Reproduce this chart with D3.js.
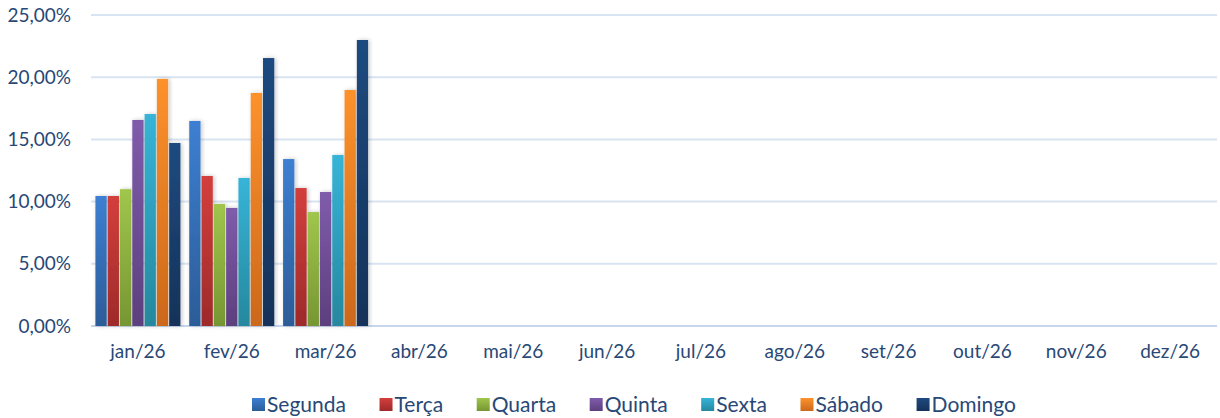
<!DOCTYPE html>
<html>
<head>
<meta charset="utf-8">
<script src="https://cdn.jsdelivr.net/npm/d3@7"></script>
<style>
  body { margin: 0; background: #fff; }
  svg { display: block; font-family: Lato, 'Open Sans', sans-serif; }
</style>
</head>
<body>
<div id="chart"></div>
<script>
// month categories (only first three have data)
const months = ["jan/26", "fev/26", "mar/26", "abr/26", "mai/26", "jun/26",
                "jul/26", "ago/26", "set/26", "out/26", "nov/26", "dez/26"];
const days = ["Segunda", "Terça", "Quarta", "Quinta", "Sexta", "Sábado", "Domingo"];

// share per weekday, jan..mar
const segunda = [0.1045, 0.1648, 0.1342];
const terca   = [0.1045, 0.1206, 0.1109];
const quarta  = [0.1100, 0.0981, 0.0916];
const quinta  = [0.1656, 0.0949, 0.1077];
const sexta   = [0.1704, 0.1190, 0.1375];
const sabado  = [0.1986, 0.1873, 0.1897];
const domingo = [0.1471, 0.2154, 0.2299];
const yTicks = [0, 0.05, 0.10, 0.15, 0.20, 0.25];

const series = [segunda, terca, quarta, quinta, sexta, sabado, domingo];

const colors = [
  ["#3d7fd2", "#2c5c98"],
  ["#d33f3c", "#9e2a2a"],
  ["#a0c64c", "#769632"],
  ["#7f5cab", "#5d3f7e"],
  ["#37b4d8", "#25889e"],
  ["#fd922c", "#cc681b"],
  ["#1f4a7f", "#143259"]
];
const textColor = "#284876";

const width = 1220, height = 418;
const margin = { left: 91, right: 3, top: 15, bottom: 92 };

const svg = d3.select("#chart").append("svg")
  .attr("width", width)
  .attr("height", height);

const defs = svg.append("defs");
colors.forEach((c, i) => {
  const g = defs.append("linearGradient")
    .attr("id", "grad" + i)
    .attr("x1", 0).attr("y1", 0).attr("x2", 0).attr("y2", 1);
  g.append("stop").attr("offset", "0%").attr("stop-color", c[0]);
  g.append("stop").attr("offset", "100%").attr("stop-color", c[1]);
});
const shadow = defs.append("filter").attr("id", "shadow")
  .attr("x", "-40%").attr("y", "-10%").attr("width", "180%").attr("height", "120%");
shadow.append("feDropShadow")
  .attr("dx", 1.5).attr("dy", 0).attr("stdDeviation", 2)
  .attr("flood-color", "#000").attr("flood-opacity", 0.22);

const y = d3.scaleLinear()
  .domain([0, 0.25])
  .range([height - margin.bottom, margin.top]);

const x0 = d3.scaleBand()
  .domain(months)
  .range([margin.left, width - margin.right])
  .paddingInner(0.094)
  .paddingOuter(0.047);

const x1 = d3.scaleBand()
  .domain(days)
  .range([0, x0.bandwidth()])
  .paddingInner(0.085);

const locale = d3.formatLocale({ decimal: ",", thousands: ".", grouping: [3], currency: ["R$", ""] });
const pct = locale.format(".2%");

// gridlines
svg.append("g")
  .selectAll("line")
  .data(yTicks)
  .join("line")
  .attr("x1", margin.left)
  .attr("x2", width - margin.right)
  .attr("y1", d => y(d))
  .attr("y2", d => y(d))
  .attr("stroke", d => d === 0 ? "#c6d6ec" : "#d9e4f2")
  .attr("stroke-width", 2);

// y axis labels
const yAxis = svg.append("g")
  .attr("transform", `translate(${margin.left - 20},0)`)
  .call(d3.axisLeft(y).tickValues(yTicks).tickFormat(pct).tickSize(0).tickPadding(0));
yAxis.select(".domain").remove();
yAxis.selectAll("text")
  .attr("fill", textColor)
  .style("font-size", "19px")
  .style("font-family", "Lato, 'Open Sans', sans-serif");

// x axis labels
const xAxis = svg.append("g")
  .attr("transform", `translate(0,${y(0) + 18})`)
  .call(d3.axisBottom(x0).tickSize(0).tickPadding(0));
xAxis.select(".domain").remove();
xAxis.selectAll("text")
  .attr("fill", textColor)
  .attr("dy", "0.71em")
  .style("font-size", "19px")
  .style("font-family", "Lato, 'Open Sans', sans-serif");

// bars
const rows = [];
series.forEach((vals, si) => {
  vals.forEach((v, mi) => rows.push({ day: days[si], si, month: months[mi], value: v }));
});

svg.append("g")
  .selectAll("rect")
  .data(rows)
  .join("rect")
  .attr("x", d => x0(d.month) + x1(d.day))
  .attr("y", d => y(d.value))
  .attr("width", x1.bandwidth())
  .attr("height", d => y(0) - y(d.value))
  .attr("fill", d => `url(#grad${d.si})`)
  .attr("filter", "url(#shadow)");

// legend
const legendLeft = 252, legendRight = 1016;
const legend = svg.append("g").attr("transform", `translate(0,${405})`);
const items = legend.selectAll("g")
  .data(days)
  .join("g");
items.append("rect")
  .attr("width", 13).attr("height", 13)
  .attr("y", -7)
  .attr("fill", (d, i) => `url(#grad${i})`);
items.append("text")
  .attr("x", 15)
  .attr("dy", "0.35em")
  .attr("fill", textColor)
  .style("font-size", "21px")
  .text(d => d);

const widths = [];
items.each(function() {
  widths.push(this.querySelector("text").getComputedTextLength() + 15);
});
const gap = (legendRight - legendLeft - d3.sum(widths)) / (days.length - 1);
let pos = legendLeft;
const offsets = widths.map(w => { const p = pos; pos += w + gap; return p; });
items.attr("transform", (d, i) => `translate(${offsets[i]},0)`);
</script>
</body>
</html>
